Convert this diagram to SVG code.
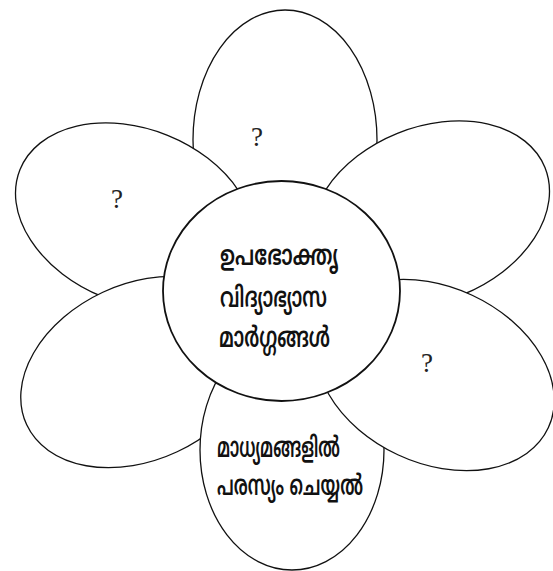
<svg xmlns="http://www.w3.org/2000/svg" width="553" height="571" viewBox="0 0 553 571">
<style>
.petal{fill:#fff;stroke:#111;stroke-width:1.3}
.core{fill:#fff;stroke:#111;stroke-width:1.8}
.q{font-family:"Liberation Serif",serif;font-size:27px;fill:#222}
.ml{font-family:"Noto Sans Malayalam","Noto Sans","DejaVu Sans",sans-serif;font-size:28px;font-weight:600;fill:#111}
</style>
<rect width="553" height="571" fill="#fff"/>
<g id="petal-top"><ellipse class="petal" cx="285" cy="140" rx="92" ry="130"/><text class="q" x="251" y="146">?</text></g>
<g id="petal-upper-left"><ellipse class="petal" cx="0" cy="0" rx="124" ry="87" transform="translate(135 216) rotate(22)"/><text class="q" x="111" y="208">?</text></g>
<g id="petal-upper-right"><ellipse class="petal" cx="0" cy="0" rx="124" ry="87" transform="translate(430 214) rotate(-22)"/></g>
<g id="petal-lower-left"><ellipse class="petal" cx="0" cy="0" rx="125" ry="88" transform="translate(140 372) rotate(-25)"/></g>
<g id="petal-bottom"><ellipse class="petal" cx="292" cy="450" rx="92" ry="120"/><text class="ml" x="217" y="457" textLength="123" lengthAdjust="spacingAndGlyphs">മാധ്യമങ്ങളിൽ</text><text class="ml" x="217" y="495" textLength="146" lengthAdjust="spacingAndGlyphs">പരസ്യം ചെയ്യൽ</text></g>
<g id="petal-lower-right"><ellipse class="petal" cx="0" cy="0" rx="125" ry="88" transform="translate(435 375) rotate(25)"/><text class="q" x="421" y="372">?</text></g>
<g id="center"><ellipse class="core" cx="281.5" cy="291" rx="118.5" ry="110"/><text class="ml" x="220" y="265" textLength="118" lengthAdjust="spacingAndGlyphs">ഉപഭോക്തൃ</text><text class="ml" x="220" y="307" textLength="107" lengthAdjust="spacingAndGlyphs">വിദ്യാഭ്യാസ</text><text class="ml" x="219" y="347" textLength="111" lengthAdjust="spacingAndGlyphs">മാർഗ്ഗങ്ങൾ</text></g>
</svg>
